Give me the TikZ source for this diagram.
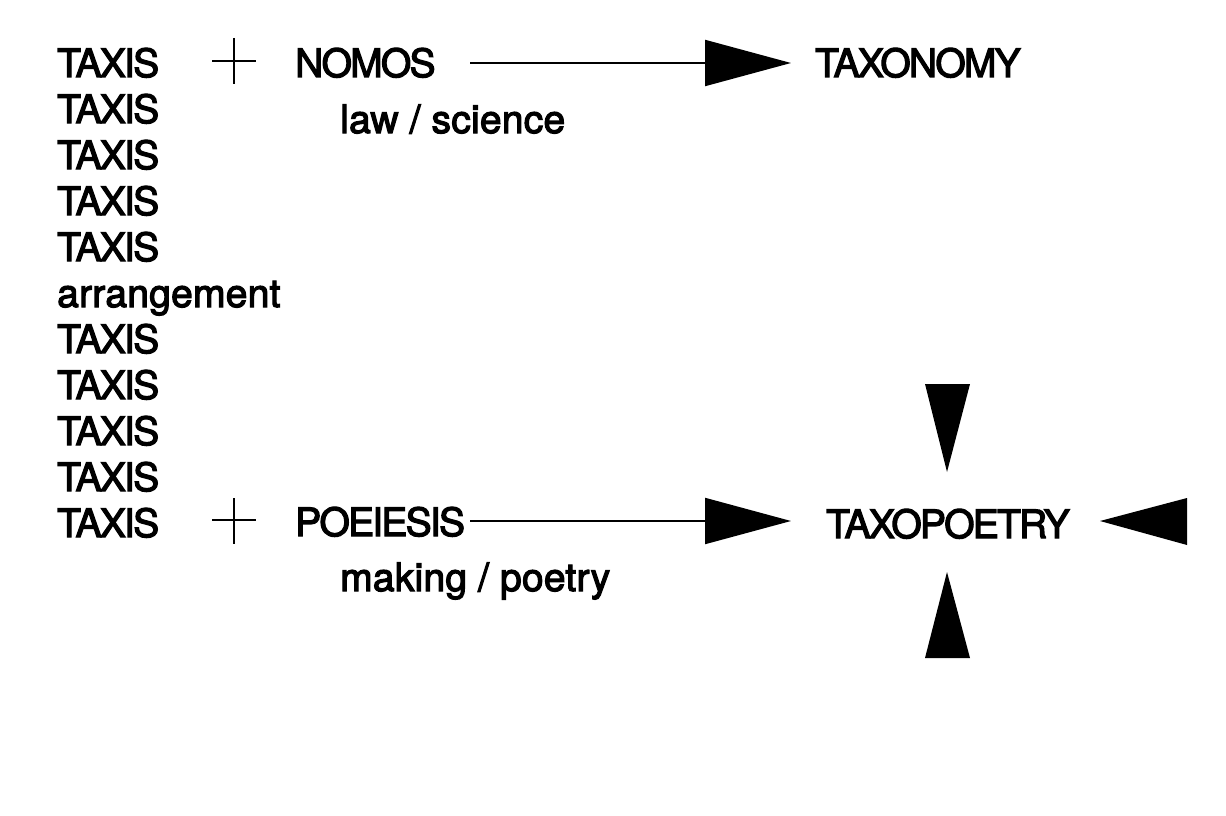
\documentclass[tikz,border=0pt]{standalone}
\usepackage{fontspec}
\setmainfont{TeX Gyre Heros}[LetterSpace=0.6, FakeBold=3]
\newfontfamily\capsfont{TeX Gyre Heros}[LetterSpace=-4.5, FakeBold=3]
\usepackage{tikz}
\usetikzlibrary{arrows.meta}

\tikzset{
  word/.style={anchor=base west, inner sep=0pt, font=\fontsize{39}{46}\selectfont\capsfont},
  gloss/.style={anchor=base west, inner sep=0pt, font=\fontsize{39}{46}\selectfont},
  plusbar/.style={line width=2pt},
  bigarrow/.style={line width=2pt, -{Triangle[length=86pt,width=46pt]}},
  tipfill/.style={fill=black, draw=none}
}

\begin{document}
\begin{tikzpicture}[x=1pt, y=-1pt]
    \useasboundingbox (0,0) rectangle (1226,816);
    % left column
    \foreach \i in {0,...,10}{
        \ifnum\i=5
            \node[gloss] (t\i) at (57,77+46*\i) {arrangement};
        \else
            \node[word] (t\i) at (57,77+46*\i) {TAXIS};
        \fi
    }
    % top row
    \draw[plusbar] (212,61) -- (256,61) (234,38) -- (234,84);
    \node[word] (nomos) at (295,77) {NOMOS};
    \node[gloss] (lawsci) at (340,133) {law / science};
    \node[word] (taxonomy) at (815,77) {TAXONOMY};
    \coordinate (n1) at (470,63);
    \coordinate (n2) at (791,63);
    \draw[bigarrow] (n1) -- (n2);
    % bottom row
    \draw[plusbar] (212,520) -- (256,520) (234,498) -- (234,544);
    \node[word] (poiesis) at (295,536) {POEIESIS};
    \node[gloss] (making) at (340,591) {making / poetry};
    \node[word] (taxopoetry) at (826,538) {TAXOPOETRY};
    \coordinate (p1) at (470,521);
    \coordinate (p2) at (791,521);
    \draw[bigarrow] (p1) -- (p2);
    % arrowheads round taxopoetry
    \filldraw[tipfill] (925,384) -- (970,384) -- (947,472) -- cycle;
    \filldraw[tipfill] (925,658) -- (970,658) -- (947,572) -- cycle;
    \filldraw[tipfill] (1187,498) -- (1187,545) -- (1100,521) -- cycle;
\end{tikzpicture}
\end{document}
